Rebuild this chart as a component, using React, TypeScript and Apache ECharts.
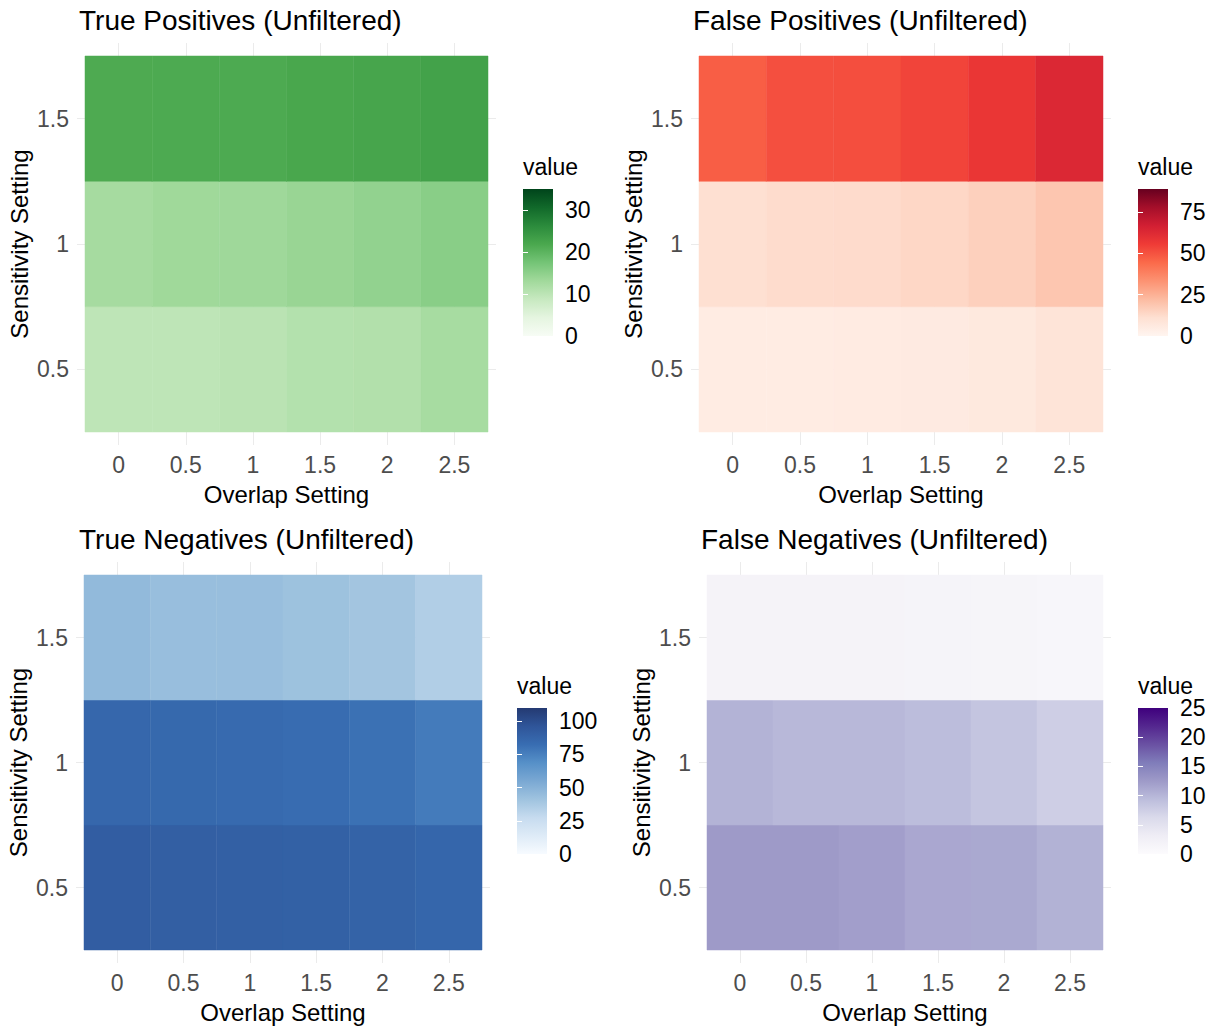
import React, { useEffect, useRef } from "react";
import * as echarts from "echarts";

// ---------- data ----------
const overlap = [0, 0.5, 1, 1.5, 2, 2.5];
const sensitivity = [0.5, 1, 1.5];
const xTickValues = [0, 0.5, 1, 1.5, 2, 2.5];
const yTickValues = [0.5, 1, 1.5];

// rows follow `sensitivity` (0.5, 1, 1.5); columns follow `overlap`
const truePositives = [
  [9.8, 9.8, 10.3, 11.0, 11.2, 12.4],
  [12.5, 13.2, 13.3, 13.9, 14.6, 15.5],
  [21.5, 21.6, 21.6, 22.0, 22.3, 22.8],
];
const falsePositives = [
  [4.8, 5.0, 5.2, 5.6, 6.6, 8.8],
  [11.1, 12.2, 12.5, 13.8, 15.9, 18.9],
  [47.4, 50.8, 51.2, 53.5, 57.6, 63.3],
];
const trueNegatives = [
  [91.5, 90.5, 90.0, 89.5, 88.5, 86.5],
  [86.0, 85.0, 84.0, 83.0, 81.0, 77.0],
  [46.0, 44.0, 44.0, 42.0, 40.0, 35.0],
];
const falseNegatives = [
  [12.5, 12.5, 12.1, 11.3, 11.2, 10.4],
  [10.3, 9.8, 9.8, 9.4, 8.5, 7.5],
  [1.8, 1.8, 1.8, 1.6, 1.4, 1.2],
];

const tpLegendTicks = [0, 10, 20, 30];
const fpLegendTicks = [0, 25, 50, 75];
const tnLegendTicks = [0, 25, 50, 75, 100];
const fnLegendTicks = [0, 5, 10, 15, 20, 25];

const tpMax = 35;
const fpMax = 89;
const tnMax = 110;
const fnMax = 25;

const titles = [
  "True Positives (Unfiltered)",
  "False Positives (Unfiltered)",
  "True Negatives (Unfiltered)",
  "False Negatives (Unfiltered)",
];

// ---------- palettes ----------
const GREENS = ["#f7fcf5", "#e5f5e0", "#c7e9c0", "#a1d99b", "#74c476", "#4aa84e", "#2b8b3c", "#11692a", "#00441b"];
const REDS = ["#fff5f0", "#fee0d2", "#fcbba1", "#fc9272", "#fb6a4a", "#ef3b36", "#d21f33", "#a50f2a", "#67001f"];
const BLUES = ["#f7fbff", "#deebf7", "#c6dbef", "#9fc3df", "#7aa8d3", "#5690c8", "#386db2", "#2f5599", "#243a72"];
const PURPLES = ["#fcfbfd", "#efedf5", "#dadaeb", "#bcbddc", "#9e9ac8", "#807dba", "#6a51a3", "#54278f", "#3f007d"];

const FONT = "'Liberation Sans', Arial, Helvetica, sans-serif";
const GRID_COLOR = "#ebebeb";
const AXIS_TEXT = "#4d4d4d";

// ---------- layout ----------
const layouts = [
  { tile: [85, 56, 403, 376], title: [79, 20], legendTitle: [523, 167], bar: [523, 189, 30, 147] },
  { tile: [699, 56, 404, 376], title: [693, 20], legendTitle: [1138, 167], bar: [1138, 189, 30, 147] },
  { tile: [84, 575, 398, 375], title: [79, 539], legendTitle: [517, 686], bar: [517, 708, 30, 146] },
  { tile: [707, 575, 396, 375], title: [701, 539], legendTitle: [1138, 686], bar: [1138, 708, 30, 146] },
];
const PAD_X = 8;
const PAD_Y = 13;

const panels = [
  { values: truePositives, palette: GREENS, max: tpMax, ticks: tpLegendTicks },
  { values: falsePositives, palette: REDS, max: fpMax, ticks: fpLegendTicks },
  { values: trueNegatives, palette: BLUES, max: tnMax, ticks: tnLegendTicks },
  { values: falseNegatives, palette: PURPLES, max: fnMax, ticks: fnLegendTicks },
];

function buildOption() {
  const grid: any[] = [];
  const xAxis: any[] = [];
  const yAxis: any[] = [];
  const series: any[] = [];
  const visualMap: any[] = [];
  const title: any[] = [];
  const graphic: any[] = [];

  const hw = (overlap[1] - overlap[0]) / 2;
  const hh = (sensitivity[1] - sensitivity[0]) / 2;
  const xLo = Math.min(...overlap) - hw;
  const xHi = Math.max(...overlap) + hw;
  const yLo = Math.min(...sensitivity) - hh;
  const yHi = Math.max(...sensitivity) + hh;

  panels.forEach((p, i) => {
    const L = layouts[i];
    const [tl, tt, tw, th] = L.tile;
    const xPad = (PAD_X * (xHi - xLo)) / tw;
    const yPad = (PAD_Y * (yHi - yLo)) / th;

    // main panel grid
    grid.push({ left: tl - PAD_X, top: tt - PAD_Y, width: tw + 2 * PAD_X, height: th + 2 * PAD_Y });
    const gIdx = grid.length - 1;
    xAxis.push({
      gridIndex: gIdx,
      type: "value",
      min: xLo - xPad,
      max: xHi + xPad,
      name: "Overlap Setting",
      nameLocation: "middle",
      nameGap: 37,
      nameTextStyle: { fontFamily: FONT, fontSize: 24, color: "#000" },
      axisLine: { show: false },
      axisTick: { show: false, customValues: xTickValues },
      axisLabel: { customValues: xTickValues, fontFamily: FONT, fontSize: 23, color: AXIS_TEXT, margin: 8, lineHeight: 23 },
      splitLine: { show: true, lineStyle: { color: GRID_COLOR, width: 1 } },
    });
    const xIdx = xAxis.length - 1;
    yAxis.push({
      gridIndex: gIdx,
      type: "value",
      min: yLo - yPad,
      max: yHi + yPad,
      name: "Sensitivity Setting",
      nameLocation: "middle",
      nameGap: 46,
      nameTextStyle: { fontFamily: FONT, fontSize: 24, color: "#000" },
      axisLine: { show: false },
      axisTick: { show: false, customValues: yTickValues },
      axisLabel: { customValues: yTickValues, fontFamily: FONT, fontSize: 23, color: AXIS_TEXT, margin: 8 },
      splitLine: { show: true, lineStyle: { color: GRID_COLOR, width: 1 } },
    });
    const yIdx = yAxis.length - 1;

    const data: number[][] = [];
    sensitivity.forEach((s, r) => {
      overlap.forEach((o, c) => {
        data.push([o, s, p.values[r][c]]);
      });
    });

    series.push({
      type: "custom",
      coordinateSystem: "cartesian2d",
      xAxisIndex: xIdx,
      yAxisIndex: yIdx,
      encode: { x: 0, y: 1 },
      data,
      silent: true,
      renderItem: (params: any, api: any) => {
        const x = api.value(0);
        const y = api.value(1);
        const a = api.coord([x - hw, y + hh]);
        const b = api.coord([x + hw, y - hh]);
        const col = api.visual("color");
        return {
          type: "rect",
          shape: { x: a[0], y: a[1], width: b[0] - a[0], height: b[1] - a[1] },
          style: { fill: col, stroke: col, lineWidth: 0.5 },
        };
      },
    });
    const sIdx = series.length - 1;

    visualMap.push({
      type: "continuous",
      show: false,
      seriesIndex: sIdx,
      dimension: 2,
      min: 0,
      max: p.max,
      inRange: { color: p.palette },
    });

    // title
    title.push({
      text: titles[i],
      left: L.title[0],
      top: L.title[1] - 14,
      padding: 0,
      textStyle: { fontFamily: FONT, fontSize: 28, fontWeight: "normal", color: "#000", lineHeight: 28 },
    });
    // legend title
    title.push({
      text: "value",
      left: L.legendTitle[0],
      top: L.legendTitle[1] - 12,
      padding: 0,
      textStyle: { fontFamily: FONT, fontSize: 23, fontWeight: "normal", color: "#000", lineHeight: 24 },
    });

    // legend colour bar
    const [bx, by, bw, bh] = L.bar;
    const stops = p.palette.map((c, k) => ({ offset: k / (p.palette.length - 1), color: c }));
    graphic.push({
      type: "rect",
      z: 1,
      silent: true,
      shape: { x: bx, y: by, width: bw, height: bh },
      style: { fill: new echarts.graphic.LinearGradient(0, 1, 0, 0, stops) },
    });

    // legend scale axes
    grid.push({ left: bx, top: by, width: bw, height: bh });
    const lg = grid.length - 1;
    xAxis.push({ gridIndex: lg, type: "value", min: 0, max: 1, show: false });
    const inner = p.ticks.filter((t) => t > 0 && t < p.max);
    yAxis.push({
      gridIndex: lg,
      type: "value",
      min: 0,
      max: p.max,
      position: "right",
      z: 10,
      axisLine: { show: false },
      axisTick: { show: true, inside: true, length: 5, customValues: inner, lineStyle: { color: "#fff", width: 1 } },
      axisLabel: { customValues: p.ticks, fontFamily: FONT, fontSize: 23, color: "#000", margin: 12 },
      splitLine: { show: false },
    });
    yAxis.push({
      gridIndex: lg,
      type: "value",
      min: 0,
      max: p.max,
      position: "left",
      z: 10,
      axisLine: { show: false },
      axisTick: { show: true, inside: true, length: 5, customValues: inner, lineStyle: { color: "#fff", width: 1 } },
      axisLabel: { show: false },
      splitLine: { show: false },
    });
  });

  return {
    animation: false,
    backgroundColor: "#ffffff",
    title,
    grid,
    xAxis,
    yAxis,
    visualMap,
    series,
    graphic,
  };
}

export default function App() {
  const ref = useRef<HTMLDivElement>(null);
  useEffect(() => {
    if (!ref.current) return;
    const chart = echarts.init(ref.current, null, { renderer: "svg" });
    chart.setOption(buildOption() as any);
    return () => chart.dispose();
  }, []);
  return (
    <div
      ref={ref}
      style={{ position: "absolute", left: 0, top: 0, width: 1215, height: 1029, background: "#fff" }}
    />
  );
}
